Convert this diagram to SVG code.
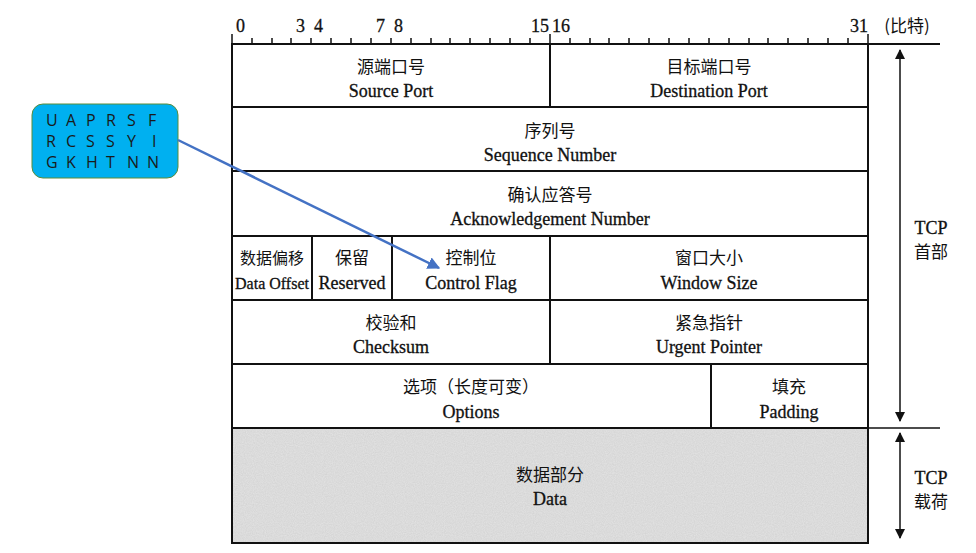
<svg xmlns="http://www.w3.org/2000/svg" width="976" height="553" viewBox="0 0 976 553">
<style>
.c{font-family:"Noto Sans CJK SC","Liberation Serif",serif;font-size:17px;text-anchor:middle;fill:#111}
.e{font-family:"Liberation Serif",serif;font-size:18px;text-anchor:middle;fill:#111;stroke:#111;stroke-width:0.3}
.n{font-family:"Liberation Serif",serif;font-size:18px;fill:#111;stroke:#111;stroke-width:0.3}
.b{fill:none;stroke:#111;stroke-width:2}
.f{font-family:"Open Sans",sans-serif;font-size:16px;fill:#1a1a1a}
</style>
<defs>
<marker id="a" viewBox="0 0 10 10" refX="9" refY="5" markerWidth="7" markerHeight="7" orient="auto-start-reverse"><path d="M0,0L10,5L0,10z" fill="#111"/></marker>
<marker id="ab" viewBox="0 0 10 10" refX="9" refY="5" markerWidth="5" markerHeight="5" orient="auto"><path d="M0,0L10,5L0,10z" fill="#4472c4"/></marker>
<filter id="noise" x="0" y="0" width="1" height="1" filterUnits="objectBoundingBox"><feTurbulence type="fractalNoise" baseFrequency="0.9" numOctaves="2" seed="3"/><feColorMatrix type="matrix" values="0 0 0 0 0.5 0 0 0 0 0.5 0 0 0 0 0.5 0 0 0 0.45 0"/></filter>
</defs>
<rect width="976" height="553" fill="#fff"/>
<g id="ruler">
<path class="b" d="M232,44H940"/>
<path stroke="#111" stroke-width="1.5" d="M232,34V44M252,38V44M272,38V44M291,38V44M311,38V44M331,38V44M351,38V44M371,38V44M391,38V44M411,38V44M431,38V44M450,38V44M470,38V44M490,38V44M510,38V44M530,38V44M550,34V44M570,38V44M590,38V44M609,38V44M629,38V44M649,38V44M669,38V44M689,38V44M709,38V44M729,38V44M749,38V44M768,38V44M788,38V44M808,38V44M828,38V44M848,38V44M868,34V44"/>
<text class="n" x="236" y="32">0</text>
<text class="n" x="296" y="32">3</text>
<text class="n" x="314" y="32">4</text>
<text class="n" x="376" y="32">7</text>
<text class="n" x="394" y="32">8</text>
<text class="n" x="531" y="32">15</text>
<text class="n" x="552" y="32">16</text>
<text class="n" x="850" y="32">31</text>
<text class="c" x="907" y="32">(比特)</text>
</g>
<g id="data"><rect x="232" y="428" width="636" height="115" fill="#e4e4e4"/><rect x="232" y="428" width="636" height="115" fill="#fff" filter="url(#noise)"/>
<text class="c" x="550" y="481">数据部分</text><text class="e" x="550" y="505">Data</text></g>
<g id="grid">
<rect class="b" x="232" y="44" width="636" height="499" stroke-width="3"/>
<path class="b" d="M232,107H868M232,171H868M232,236H868M232,300H868M232,364H868M232,428H868M550,44V107M550,236V364M312,236V300M392,236V300M711,364V428"/>
</g>
<g id="f1"><text class="c" x="391" y="73">源端口号</text><text class="e" x="391" y="97">Source Port</text></g>
<g id="f2"><text class="c" x="709" y="73">目标端口号</text><text class="e" x="709" y="97">Destination Port</text></g>
<g id="f3"><text class="c" x="550" y="137">序列号</text><text class="e" x="550" y="161">Sequence Number</text></g>
<g id="f4"><text class="c" x="550" y="201">确认应答号</text><text class="e" x="550" y="225">Acknowledgement Number</text></g>
<g id="f5"><text class="c" x="272" y="264" style="font-size:16px">数据偏移</text><text class="e" x="272" y="289" style="font-size:16px" textLength="74" lengthAdjust="spacingAndGlyphs">Data Offset</text></g>
<g id="f6"><text class="c" x="352" y="264">保留</text><text class="e" x="352" y="289">Reserved</text></g>
<g id="f7"><text class="c" x="471" y="264">控制位</text><text class="e" x="471" y="289">Control Flag</text></g>
<g id="f8"><text class="c" x="709" y="264">窗口大小</text><text class="e" x="709" y="289">Window Size</text></g>
<g id="f9"><text class="c" x="391" y="329">校验和</text><text class="e" x="391" y="353">Checksum</text></g>
<g id="f10"><text class="c" x="709" y="329">紧急指针</text><text class="e" x="709" y="353">Urgent Pointer</text></g>
<g id="f11"><text class="c" x="471" y="393">选项（长度可变）</text><text class="e" x="471" y="418">Options</text></g>
<g id="f12"><text class="c" x="789" y="393">填充</text><text class="e" x="789" y="418">Padding</text></g>
<g id="side">
<path d="M868,428H940" stroke="#111" stroke-width="1.5"/>
<path d="M900,50V421" stroke="#111" stroke-width="1.5" marker-start="url(#a)" marker-end="url(#a)"/>
<path d="M900,433V538" stroke="#111" stroke-width="1.5" marker-start="url(#a)" marker-end="url(#a)"/>
<text class="e" x="931" y="234">TCP</text><text class="c" x="931" y="258">首部</text>
<text class="e" x="931" y="484">TCP</text><text class="c" x="931" y="508">载荷</text>
</g>
<g id="flags">
<rect x="32" y="104" width="146" height="74" rx="11" fill="#00b0f0" stroke="#5b8c3a" stroke-width="1"/>
<text class="f" y="126"><tspan x="46">U</tspan><tspan x="66">A</tspan><tspan x="86">P</tspan><tspan x="106">R</tspan><tspan x="127">S</tspan><tspan x="148">F</tspan></text>
<text class="f" y="147"><tspan x="46">R</tspan><tspan x="66">C</tspan><tspan x="86">S</tspan><tspan x="106">S</tspan><tspan x="127">Y</tspan><tspan x="152">I</tspan></text>
<text class="f" y="168"><tspan x="46">G</tspan><tspan x="66">K</tspan><tspan x="86">H</tspan><tspan x="106">T</tspan><tspan x="127">N</tspan><tspan x="147">N</tspan></text>
</g>
<g id="connectors"><path d="M178,140L439,268" stroke="#4472c4" stroke-width="2.5" marker-end="url(#ab)"/></g>
</svg>
